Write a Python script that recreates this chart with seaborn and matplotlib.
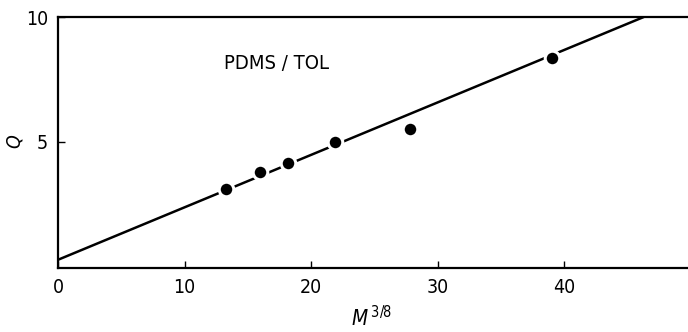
import matplotlib
matplotlib.use("Agg")
import matplotlib.pyplot as plt
import seaborn as sns
import pandas as pd

# data
m38 = [13.3, 16.0, 18.2, 21.9, 27.8, 39.05]
q_vals = [3.09, 3.79, 4.14, 4.99, 5.52, 8.34]
fit_x = [0.0, 46.3]
fit_y = [0.25, 10.0]
x_ticks = [0, 10, 20, 30, 40]
y_ticks = [5, 10]

sns.set_theme(style="ticks")
plt.rcParams['font.family'] = ['DejaVu Sans']
plt.rcParams['font.stretch'] = 'condensed'
plt.rcParams['mathtext.fontset'] = 'dejavusans'

fig = plt.figure(figsize=(6.88, 3.32), dpi=100)
ax = fig.add_axes([58/688, 1 - 268/332, 1 - 58/688, (268 - 17)/332])

sns.lineplot(x=fit_x, y=fit_y, ax=ax, color="black", linewidth=1.8, zorder=2)
df = pd.DataFrame({"m": m38, "q": q_vals})
sns.scatterplot(data=df, x="m", y="q", ax=ax, color="black", s=110,
                edgecolor="white", linewidth=2.2, zorder=3, clip_on=False)

ax.set_xlim(0, 49.8)
ax.set_ylim(-0.08, 10)
ax.set_xticks(x_ticks)
ax.set_yticks(y_ticks)
ax.tick_params(direction="in", length=5, width=1, labelsize=14, colors="black", pad=7)
for side in ["left", "bottom", "top"]:
    ax.spines[side].set_linewidth(1.6)
    ax.spines[side].set_color("black")
ax.spines["right"].set_visible(False)

ax.set_xlabel(r"$M^{\,3/8}$", fontsize=15, color="black")
ax.set_ylabel(r"$Q$", fontsize=14, color="black")
ax.xaxis.set_label_coords((372 - 58) / 630, (268 - 318) / 251)
ax.xaxis.label.set_va("center")
ax.yaxis.set_label_coords((15 - 58) / 630, (268 - 141) / 251)
ax.yaxis.label.set_va("center")
ax.text(13.1, 8.15, "PDMS / TOL", fontsize=14.5, ha="left", va="center", color="black")

fig.savefig("out.png", dpi=100)
